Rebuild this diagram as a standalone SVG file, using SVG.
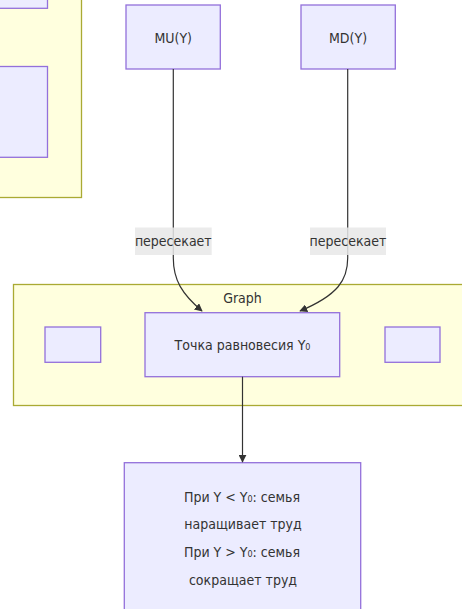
<svg xmlns="http://www.w3.org/2000/svg" width="462" height="609" viewBox="0 0 462 609">
<defs>
<style>
.node rect{fill:#ECECFF;stroke:#9370DB;stroke-width:1.3}
.cluster rect{fill:#ffffde;stroke:#aaaa33;stroke-width:1.3}
text{font-family:"DejaVu Sans Condensed","DejaVu Sans","Liberation Sans",sans-serif;font-stretch:condensed;font-size:14px;fill:#333;text-anchor:middle;dominant-baseline:central}
.edge{fill:none;stroke:#333;stroke-width:1.2}
.lbl rect{fill:#e8e8e8;opacity:0.85}
</style>
<marker id="arr" viewBox="0 0 10 10" refX="9" refY="5" markerWidth="8" markerHeight="8" markerUnits="userSpaceOnUse" orient="auto">
<path d="M0,0 L10,5 L0,10 z" fill="#333"/>
</marker>
</defs>
<g id="cluster-left" class="cluster"><rect x="-20" y="-20" width="101.5" height="217.5"/></g>
<g id="cluster-graph" class="cluster"><rect x="13.5" y="284.5" width="470" height="121"/><text x="242.5" y="298">Graph</text></g>
<g id="node-left1" class="node"><rect x="-20" y="-20" width="67.5" height="28.3"/></g>
<g id="node-left2" class="node"><rect x="-20" y="66.5" width="67.5" height="90.8"/></g>
<g id="node-mu" class="node"><rect x="126" y="5" width="94.3" height="64"/><text x="173.2" y="38">MU(Y)</text></g>
<g id="node-md" class="node"><rect x="301" y="5" width="94.3" height="64"/><text x="348" y="38">MD(Y)</text></g>
<g id="node-g1" class="node"><rect x="45" y="327" width="55.7" height="35.3"/></g>
<g id="node-g2" class="node"><rect x="385" y="327" width="55" height="35.3"/></g>
<g id="node-eq" class="node"><rect x="145" y="312.7" width="194.7" height="64"/><text x="242.5" y="345">Точка равновесия Y₀</text></g>
<g id="node-res" class="node"><rect x="124.3" y="462.7" width="236.4" height="160"/>
<text x="242" y="496.5">При Y &lt; Y₀: семья</text>
<text x="243" y="524"> наращивает труд</text>
<text x="242" y="551.5">При Y &gt; Y₀: семья</text>
<text x="243" y="579.5"> сокращает труд</text></g>
<g id="edges">
<path class="edge" d="M173.3,69 V258 C173.3,280 182,294 202,311" marker-end="url(#arr)"/>
<path class="edge" d="M347.7,69 V258 C347.7,280 338,295 300,311" marker-end="url(#arr)"/>
<path class="edge" d="M242.5,376.7 V462" marker-end="url(#arr)"/>
<g class="lbl"><rect x="135" y="227.5" width="76.7" height="27.5"/><text x="173.3" y="241">пересекает</text></g>
<g class="lbl"><rect x="310" y="227.5" width="76" height="27.5"/><text x="348" y="241">пересекает</text></g>
</g>
</svg>
